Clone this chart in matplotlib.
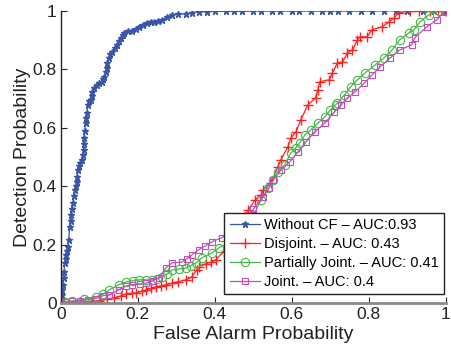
import numpy as np
import matplotlib.pyplot as plt

plt.rcParams['font.family'] = ['Liberation Sans', 'DejaVu Sans']

# ROC data (false alarm, detection)
fa_cf = [0, 0.002, 0.003, 0.004, 0.005, 0.007, 0.008, 0.010, 0.012, 0.014, 0.016, 0.018, 0.020,
         0.023, 0.025, 0.027, 0.029, 0.031, 0.034, 0.036, 0.038, 0.041, 0.043, 0.044, 0.047,
         0.050, 0.054, 0.057, 0.059, 0.059, 0.060, 0.062, 0.064, 0.066, 0.068, 0.070, 0.074,
         0.077, 0.080, 0.082, 0.086, 0.093, 0.100, 0.106, 0.110, 0.113, 0.116, 0.119, 0.121,
         0.124, 0.128, 0.134, 0.140, 0.147, 0.152, 0.157, 0.161, 0.165, 0.175, 0.186, 0.195,
         0.204, 0.214, 0.224, 0.233, 0.242, 0.252, 0.263, 0.276, 0.289, 0.305, 0.325, 0.340,
         0.358, 0.38, 0.40, 0.43, 0.45, 0.47, 0.50, 0.52, 0.55, 0.57, 0.60, 0.62, 0.65, 0.68,
         0.70, 0.72, 0.75, 0.78, 0.81, 0.84, 0.87, 0.90, 0.94, 0.97, 1.0]
pd_cf = [0, 0.015, 0.027, 0.045, 0.062, 0.085, 0.105, 0.137, 0.150, 0.165, 0.178, 0.192, 0.215,
         0.260, 0.280, 0.300, 0.322, 0.342, 0.365, 0.385, 0.400, 0.414, 0.430, 0.455, 0.468,
         0.478, 0.490, 0.505, 0.524, 0.545, 0.565, 0.590, 0.615, 0.634, 0.650, 0.678, 0.690,
         0.695, 0.710, 0.723, 0.735, 0.747, 0.752, 0.757, 0.765, 0.774, 0.790, 0.805, 0.822,
         0.839, 0.852, 0.860, 0.872, 0.884, 0.896, 0.908, 0.917, 0.925, 0.930, 0.932, 0.938,
         0.945, 0.952, 0.959, 0.961, 0.962, 0.965, 0.969, 0.978, 0.986, 0.988, 0.990, 0.993,
         0.997, 0.997, 0.998, 0.998, 0.998, 0.998, 0.999, 0.999, 0.999, 0.999, 0.999, 0.999,
         0.999, 0.999, 0.999, 0.999, 0.999, 0.999, 0.999, 1.0, 1.0, 1.0, 1.0, 1.0, 1.0]

fa_dis = [0, 0.02, 0.05, 0.08, 0.10, 0.12, 0.139, 0.155, 0.17, 0.185, 0.196, 0.21, 0.222, 0.235,
          0.247, 0.26, 0.273, 0.289, 0.305, 0.325, 0.340, 0.353, 0.358, 0.376, 0.390, 0.402,
          0.423, 0.440, 0.461, 0.475, 0.487, 0.505, 0.521, 0.526, 0.546, 0.564, 0.572, 0.590,
          0.598, 0.611, 0.624, 0.642, 0.662, 0.668, 0.673, 0.698, 0.706, 0.719, 0.732, 0.745,
          0.758, 0.771, 0.778, 0.796, 0.809, 0.835, 0.853, 0.866, 0.879, 0.907, 0.93, 0.96,
          0.98, 1.0]
pd_dis = [0, 0.0, 0.003, 0.005, 0.008, 0.012, 0.017, 0.024, 0.031, 0.033, 0.034, 0.040, 0.045,
          0.050, 0.055, 0.059, 0.062, 0.068, 0.073, 0.079, 0.089, 0.113, 0.123, 0.134, 0.140,
          0.147, 0.175, 0.215, 0.267, 0.295, 0.318, 0.353, 0.370, 0.387, 0.411, 0.466, 0.490,
          0.534, 0.565, 0.586, 0.627, 0.678, 0.702, 0.729, 0.757, 0.764, 0.788, 0.822, 0.825,
          0.856, 0.866, 0.901, 0.911, 0.911, 0.935, 0.945, 0.962, 0.976, 0.993, 1.0, 1.0, 1.0,
          1.0, 1.0]

fa_part = [0, 0.01, 0.03, 0.06, 0.09, 0.11, 0.126, 0.15, 0.170, 0.187, 0.204, 0.22, 0.237, 0.25,
           0.263, 0.277, 0.289, 0.307, 0.325, 0.338, 0.351, 0.366, 0.392, 0.410, 0.436, 0.46,
           0.48, 0.50, 0.521, 0.539, 0.552, 0.564, 0.582, 0.598, 0.610, 0.621, 0.634, 0.649,
           0.668, 0.686, 0.700, 0.714, 0.719, 0.737, 0.753, 0.771, 0.791, 0.817, 0.840, 0.861,
           0.881, 0.905, 0.918, 0.933, 0.956, 0.982, 1.0]
pd_part = [0, 0.004, 0.007, 0.012, 0.02, 0.03, 0.045, 0.062, 0.072, 0.076, 0.079, 0.079, 0.079,
           0.083, 0.089, 0.100, 0.113, 0.116, 0.120, 0.128, 0.137, 0.154, 0.171, 0.188, 0.205,
           0.23, 0.26, 0.30, 0.353, 0.394, 0.420, 0.449, 0.473, 0.514, 0.530, 0.548, 0.575,
           0.592, 0.616, 0.637, 0.660, 0.678, 0.685, 0.712, 0.740, 0.764, 0.788, 0.815, 0.839,
           0.866, 0.901, 0.925, 0.935, 0.962, 0.986, 1.0, 1.0]

fa_joint = [0, 0.01, 0.03, 0.05, 0.07, 0.09, 0.11, 0.126, 0.15, 0.170, 0.186, 0.205, 0.222,
            0.240, 0.255, 0.273, 0.289, 0.314, 0.328, 0.340, 0.358, 0.375, 0.392, 0.418, 0.436,
            0.46, 0.48, 0.50, 0.526, 0.540, 0.552, 0.572, 0.595, 0.616, 0.637, 0.660, 0.686,
            0.711, 0.728, 0.745, 0.765, 0.789, 0.809, 0.830, 0.856, 0.881, 0.912, 0.920, 0.951,
            0.977, 0.995, 1.0]
pd_joint = [0, 0.002, 0.005, 0.008, 0.011, 0.015, 0.025, 0.027, 0.045, 0.058, 0.062, 0.065,
            0.068, 0.076, 0.086, 0.120, 0.137, 0.140, 0.152, 0.164, 0.182, 0.195, 0.209, 0.223,
            0.240, 0.26, 0.29, 0.32, 0.363, 0.392, 0.421, 0.455, 0.483, 0.517, 0.551, 0.586,
            0.616, 0.654, 0.678, 0.702, 0.723, 0.753, 0.781, 0.808, 0.839, 0.866, 0.884, 0.908,
            0.945, 0.969, 0.997, 1.0]

labels = ['Without CF \u2013 AUC:0.93', 'Disjoint. \u2013 AUC: 0.43',
          'Partially Joint. \u2013 AUC: 0.41', 'Joint. \u2013 AUC: 0.4']

fig = plt.figure(figsize=(4.51, 3.49), dpi=100)
ax = fig.add_axes([0.135, 0.132, 0.853, 0.837])

ax.plot(fa_cf, pd_cf, color='#3a55a8', marker='*', markersize=5, lw=0.9, label=labels[0])
ax.plot(fa_dis, pd_dis, color='#ff2020', marker='+', markersize=7, mew=1.0, lw=0.9, label=labels[1])
ax.plot(fa_part, pd_part, color='#45b845', marker='o', markersize=6, mfc='none', mew=0.8,
        lw=0.9, label=labels[2])
ax.plot(fa_joint, pd_joint, color='#c050b8', marker='s', markersize=5, mfc='none', mew=0.8,
        lw=0.9, label=labels[3])

ax.set_xlim(0, 1)
ax.set_ylim(0, 1)
ticks = [0, 0.2, 0.4, 0.6, 0.8, 1]
ticklabels = ['0', '0.2', '0.4', '0.6', '0.8', '1']
ax.set_xticks(ticks)
ax.set_xticklabels(ticklabels)
ax.set_yticks(ticks)
ax.set_yticklabels(ticklabels)
ax.tick_params(direction='in', length=4, labelsize=12.5, colors='#222222', pad=3)

ax.spines['top'].set_visible(False)
ax.spines['right'].set_visible(False)
ax.spines['left'].set_color('#222222')
ax.spines['left'].set_linewidth(1.0)
ax.spines['bottom'].set_color('#8a8a8a')
ax.spines['bottom'].set_linewidth(2.0)

ax.set_xlabel('False Alarm Probability', fontsize=14, color='#222222', labelpad=3)
ax.set_ylabel('Detection Probability', fontsize=14, color='#222222', labelpad=1)

leg = ax.legend(loc='lower right', bbox_to_anchor=(0.995, 0.03), borderaxespad=0,
                fontsize=10.5, handlelength=2.1, handletextpad=0.25, labelspacing=0.35,
                borderpad=0.35, fancybox=False, framealpha=1, edgecolor='#222222')
leg.get_frame().set_linewidth(1.0)

fig.savefig('out.png', dpi=100)
